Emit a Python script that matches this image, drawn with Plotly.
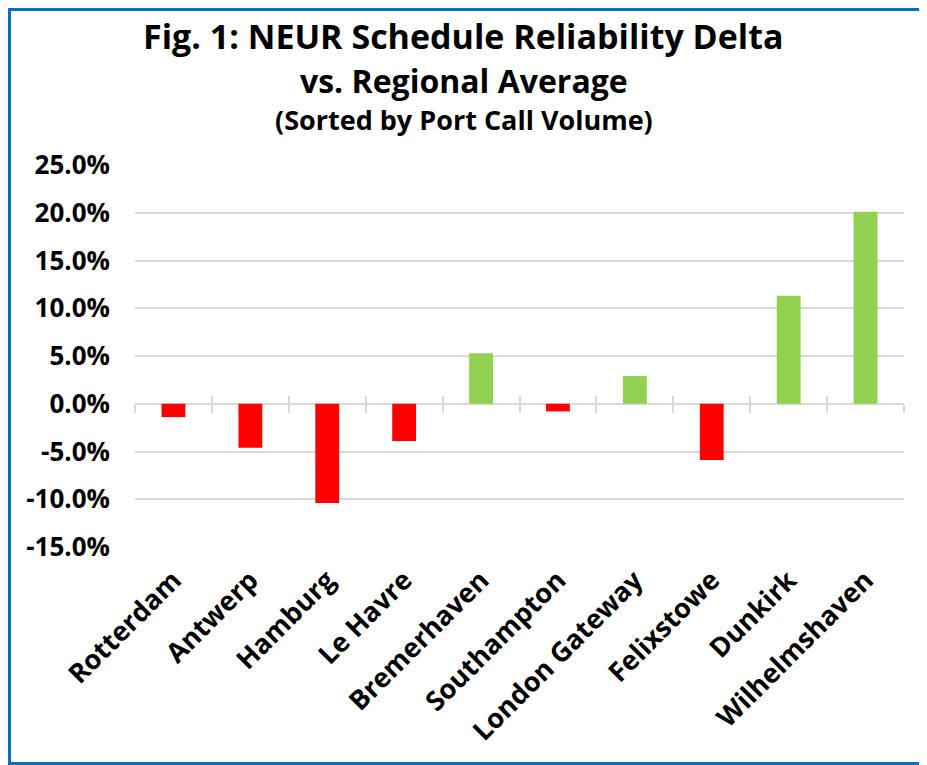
import numpy as np
import plotly.graph_objects as go

ports = ["Rotterdam", "Antwerp", "Hamburg", "Le Havre", "Bremerhaven",
         "Southampton", "London Gateway", "Felixstowe", "Dunkirk", "Wilhelmshaven"]
delta = [-1.4, -4.6, -10.4, -3.9, 5.3, -0.8, 2.9, -5.9, 11.3, 20.1]  # % vs regional avg
y_ticks = [-15, -10, -5, 0, 5, 10, 15, 20, 25]
title_lines = ["Fig. 1: NEUR Schedule Reliability Delta", "vs. Regional Average",
               "(Sorted by Port Call Volume)"]

FONT = "Open Sans"
# page body has an 8px margin, so the figure is sized to fill the rest of the window
W, H = 919, 757
ml, mr, mt, mb = 127, 23, 157, 218
plot_h = H - mt - mb
plot_w = W - ml - mr


def py(y_px):
    # pixel row (from top of figure) -> paper y
    return (H - mb - y_px) / plot_h


def px(x_px):
    return (x_px - ml) / plot_w


colors = ["#92D050" if v >= 0 else "#FF0000" for v in delta]

fig = go.Figure()
fig.add_trace(go.Bar(x=ports, y=delta, marker_color=colors, marker_line_width=0,
                     width=0.31, showlegend=False, hoverinfo="x+y"))

y_min, y_max = y_ticks[0], y_ticks[-1]
zero_pos = (0 - y_min) / (y_max - y_min)
bounds = list(np.arange(len(ports) + 1) - 0.5)

# crossing tick marks on the zero line, at category boundaries
for ax in ["x2", "x3"]:
    fig.add_trace(go.Scatter(x=bounds, y=[0] * len(bounds), xaxis=ax, mode="none",
                             showlegend=False, hoverinfo="skip"))
tick_axis = dict(anchor="free", overlaying="x", position=zero_pos, range=[-0.5, len(ports) - 0.5],
                 tickvals=bounds, showticklabels=False, showgrid=False, zeroline=False,
                 showline=False, ticklen=8, tickwidth=2, tickcolor="#D9D9D9")

title_sizes = [34, 32, 27]
title_rows = [28, 72.5, 112]
annotations = [dict(text=f"<b>{t}</b>", x=px(W / 2 - 4), xref="paper", y=py(r), yref="paper",
                    xanchor="center", yanchor="middle", showarrow=False,
                    font=dict(size=s, family=FONT, color="black"))
               for t, s, r in zip(title_lines, title_sizes, title_rows)]

fig.update_layout(
    width=W, height=H,
    margin=dict(l=ml, r=mr, t=mt, b=mb),
    paper_bgcolor="white", plot_bgcolor="white",
    font=dict(family=FONT, color="black"),
    annotations=annotations,
    xaxis=dict(type="category", categoryarray=ports, tickangle=-45,
               tickfont=dict(size=27, family=FONT, weight="bold"), showgrid=False, zeroline=False,
               showline=False, ticks="", ticklabelstandoff=11),
    xaxis2=dict(tick_axis, ticks="outside"),
    xaxis3=dict(tick_axis, ticks="inside"),
    yaxis=dict(range=[y_min, y_max], tickvals=y_ticks,
               ticktext=[f"{v:.1f}%" for v in y_ticks],
               tickfont=dict(size=26, family=FONT, weight="bold"), showgrid=True, gridcolor="#D9D9D9",
               gridwidth=2, zeroline=True, zerolinecolor="#D9D9D9", zerolinewidth=2,
               showline=False, ticks="", ticklabelstandoff=24),
    shapes=[dict(type="rect", xref="paper", yref="paper",
                 x0=px(1.5), x1=px(W - 1.5), y0=py(H - 1.5), y1=py(1.5),
                 line=dict(color="#0070C0", width=3), layer="above")],
)

fig.write_html("out.html")
